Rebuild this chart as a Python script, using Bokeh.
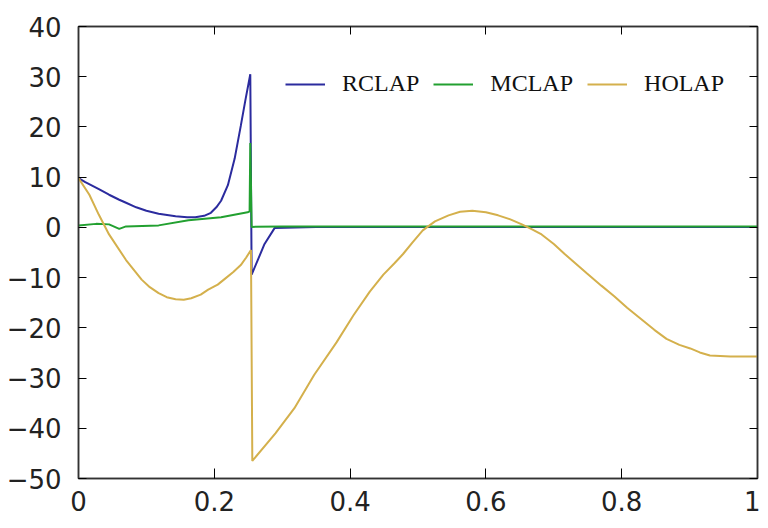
from bokeh.plotting import figure
from bokeh.models import FixedTicker, LinearAxis, Range1d, Legend, LegendItem
from bokeh.embed import file_html
from bokeh.resources import INLINE

# ---- data ----
rclap_x = [0.0, 0.01, 0.02, 0.03, 0.045, 0.06, 0.07, 0.085, 0.1, 0.118, 0.143, 0.16,
           0.172, 0.185, 0.195, 0.203, 0.21, 0.22, 0.23, 0.239, 0.246, 0.253,
           0.255, 0.274, 0.289, 0.35, 0.5, 0.7, 1.0]
rclap_y = [9.8, 9.0, 8.3, 7.6, 6.5, 5.5, 4.9, 4.0, 3.3, 2.7, 2.2, 2.0,
           2.0, 2.3, 2.9, 4.0, 5.3, 8.4, 13.7, 20.2, 25.5, 30.5,
           -9.4, -3.3, -0.1, 0.1, 0.1, 0.1, 0.1]

mclap_x = [0.0, 0.026, 0.045, 0.06, 0.07, 0.118, 0.162, 0.21, 0.249, 0.252,
           0.253, 0.255, 0.3, 0.6, 1.0]
mclap_y = [0.4, 0.7, 0.6, -0.3, 0.2, 0.4, 1.4, 2.0, 3.0, 3.2,
           16.8, 0.1, 0.2, 0.2, 0.2]

holap_x = [0.0, 0.016, 0.03, 0.045, 0.07, 0.093, 0.105, 0.118, 0.13, 0.143, 0.155,
           0.166, 0.18, 0.191, 0.205, 0.216, 0.228, 0.239, 0.247, 0.254,
           0.256, 0.29, 0.318, 0.347, 0.38, 0.405, 0.429, 0.449, 0.465, 0.478,
           0.492, 0.507, 0.525, 0.545, 0.562, 0.58, 0.6, 0.618, 0.636, 0.653,
           0.668, 0.682, 0.7, 0.716, 0.749, 0.77, 0.789, 0.808, 0.828, 0.848,
           0.866, 0.885, 0.901, 0.915, 0.93, 0.96, 1.0]
holap_y = [9.8, 6.5, 2.5, -1.4, -6.5, -10.4, -11.9, -13.1, -13.9, -14.3, -14.4,
           -14.1, -13.4, -12.4, -11.4, -10.2, -8.9, -7.5, -6.0, -4.5,
           -46.5, -41.0, -36.0, -29.4, -22.9, -17.5, -12.8, -9.4, -7.2, -5.3,
           -3.0, -0.6, 1.2, 2.4, 3.1, 3.3, 3.0, 2.4, 1.6, 0.6,
           -0.4, -1.4, -3.3, -5.3, -9.2, -11.6, -13.7, -16.0, -18.2, -20.4,
           -22.2, -23.4, -24.1, -24.9, -25.5, -25.7, -25.7]

series_names = ["RCLAP", "MCLAP", "HOLAP"]
series_colors = ["#2b2b9e", "#22a030", "#d4b04c"]

x_ticks = [0, 0.2, 0.4, 0.6, 0.8, 1.0]
x_tick_labels = ["0", "0.2", "0.4", "0.6", "0.8", "1"]
y_ticks = [-50, -40, -30, -20, -10, 0, 10, 20, 30, 40]

# ---- figure ----
p = figure(width=760, height=520, x_range=Range1d(0, 1), y_range=Range1d(-50, 40),
           output_backend="svg", toolbar_location=None,
           min_border_left=78, min_border_right=3, min_border_top=26, min_border_bottom=42)
p.xgrid.visible = False
p.ygrid.visible = False
p.outline_line_color = "#333333"
p.outline_line_width = 1.5
p.background_fill_color = "white"
p.border_fill_color = "white"

tick_font = "DejaVu Sans"

xa = p.xaxis[0]
xa.ticker = FixedTicker(ticks=x_ticks)
xa.major_label_overrides = {t: l for t, l in zip(x_ticks, x_tick_labels)}
xa.major_tick_in = 10
xa.major_tick_out = 0
xa.minor_tick_in = 0
xa.minor_tick_out = 0
xa.major_label_standoff = 12
xa.major_label_text_font = tick_font
xa.major_label_text_font_size = "26px"
xa.major_label_text_color = "#222222"
xa.axis_line_color = "#333333"
xa.axis_line_width = 1.5

ya = p.yaxis[0]
ya.ticker = FixedTicker(ticks=y_ticks)
ya.major_tick_in = 8
ya.major_tick_out = 0
ya.minor_tick_in = 0
ya.minor_tick_out = 0
ya.major_label_standoff = 17
ya.major_label_text_font = tick_font
ya.major_label_text_font_size = "26px"
ya.major_label_text_color = "#222222"
ya.axis_line_color = "#333333"
ya.axis_line_width = 1.5

# mirrored ticks on right and top (labels not drawn)
ra = LinearAxis(ticker=FixedTicker(ticks=y_ticks), major_label_text_font_size="1px",
                major_label_text_color=None,
                major_tick_in=8, major_tick_out=0, minor_tick_in=0, minor_tick_out=0,
                major_label_standoff=0, axis_line_color="#333333", axis_line_width=1.5)
p.add_layout(ra, "right")
ta = LinearAxis(ticker=FixedTicker(ticks=x_ticks), major_label_text_font_size="1px",
                major_label_text_color=None,
                major_tick_in=8, major_tick_out=0, minor_tick_in=0, minor_tick_out=0,
                major_label_standoff=0, axis_line_color="#333333", axis_line_width=1.5)
p.add_layout(ta, "above")

renderers = []
for xs, ys, c in zip([rclap_x, mclap_x, holap_x], [rclap_y, mclap_y, holap_y], series_colors):
    r = p.line(xs, ys, line_color=c, line_width=2)
    renderers.append(r)

legend = Legend(items=[LegendItem(label=n, renderers=[r]) for n, r in zip(series_names, renderers)],
                orientation="horizontal", location=(207, 381),
                glyph_width=40, glyph_height=20, label_standoff=17, spacing=14,
                padding=0, margin=0, border_line_color=None, background_fill_alpha=0,
                label_text_font="Liberation Serif", label_text_font_size="24px",
                label_text_color="#111111")
p.add_layout(legend)

open("out.html", "w").write(file_html(p, INLINE))
